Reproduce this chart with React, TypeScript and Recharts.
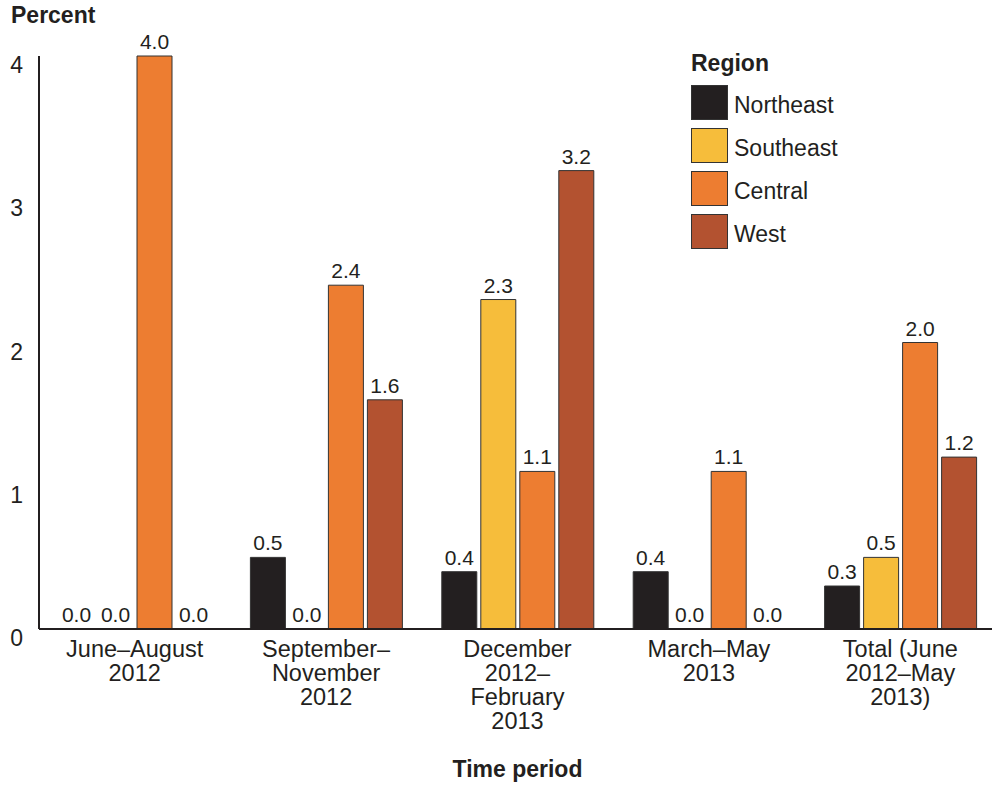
import React from 'react';
import { BarChart, Bar, XAxis, YAxis, Legend, LabelList, Rectangle } from 'recharts';

// Time periods, one entry per bar group; lines of each tick label split on '\n'
const periods = [
  'June–August\n2012',
  'September–\nNovember\n2012',
  'December\n2012–\nFebruary\n2013',
  'March–May\n2013',
  'Total (June\n2012–May\n2013)',
];

const northeast = [0.0, 0.5, 0.4, 0.4, 0.3];
const southeast = [0.0, 0.0, 2.3, 0.0, 0.5];
const central = [4.0, 2.4, 1.1, 1.1, 2.0];
const west = [0.0, 1.6, 3.2, 0.0, 1.2];

const yTicks = [0, 1, 2, 3, 4];

const regions = [
  { key: 'northeast', name: 'Northeast', color: '#231f20' },
  { key: 'southeast', name: 'Southeast', color: '#f6bd3b' },
  { key: 'central', name: 'Central', color: '#ed7d31' },
  { key: 'west', name: 'West', color: '#b35230' },
];

const data = periods.map((period, i) => ({
  period,
  northeast: northeast[i],
  southeast: southeast[i],
  central: central[i],
  west: west[i],
}));

const FONT = '"Liberation Sans", Arial, Helvetica, sans-serif';
const INK = '#231f20';

const PeriodTick = ({ x, y, payload }: any) => {
  const lines = String(payload.value).split('\n');
  return (
    <text x={x} y={y + 28} textAnchor="middle" fill={INK} fontSize={23.5} fontFamily={FONT}>
      {lines.map((line, i) => (
        <tspan key={i} x={x} dy={i === 0 ? 0 : 24}>
          {line}
        </tspan>
      ))}
    </text>
  );
};

const PercentTick = ({ x, y, payload }: any) => (
  <text x={x - 16} y={y + 17} textAnchor="end" fill={INK} fontSize={23} fontFamily={FONT}>
    {payload.value}
  </text>
);

// zero values get a hairline bar so their "0.0" label is still placed, but nothing is drawn
const BarShape = (props: any) => (props.height < 0.5 ? <g /> : <Rectangle {...props} />);

const RegionLegend = () => (
  <div style={{ fontFamily: FONT, color: INK }}>
    <div style={{ fontWeight: 'bold', fontSize: 23, lineHeight: '26px', marginBottom: 9 }}>Region</div>
    {regions.map((r) => (
      <div key={r.key} style={{ display: 'flex', alignItems: 'center', height: 35, marginBottom: 8 }}>
        <div
          style={{
            width: 35,
            height: 33,
            background: r.color,
            border: '1px solid #333',
            marginRight: 6,
          }}
        />
        <span style={{ fontSize: 23, lineHeight: '26px', paddingTop: 4 }}>{r.name}</span>
      </div>
    ))}
  </div>
);

export default function App() {
  return (
    <div
      style={{
        position: 'absolute',
        left: 0,
        top: 0,
        width: 992,
        height: 786,
        overflow: 'hidden',
        background: '#fff',
      }}
    >
      <div
        style={{
          position: 'absolute',
          left: 11,
          top: 4,
          fontFamily: FONT,
          fontWeight: 'bold',
          fontSize: 23,
          lineHeight: '23px',
          color: INK,
        }}
      >
        Percent
      </div>
      <BarChart
        width={1000}
        height={786}
        data={data}
        margin={{ top: 56, right: 4, bottom: 0, left: 0 }}
        barCategoryGap={20}
        barGap={4}
      >
        <XAxis
          dataKey="period"
          height={157}
          tickLine={false}
          tickSize={0}
          tickMargin={0}
          axisLine={{ stroke: INK, strokeWidth: 2 }}
          tick={<PeriodTick />}
          interval={0}
          label={{
            value: 'Time period',
            position: 'insideBottom',
            offset: 9,
            fill: INK,
            fontSize: 23,
            fontWeight: 'bold',
            fontFamily: FONT,
          }}
        />
        <YAxis
          width={39}
          domain={[0, 4]}
          ticks={yTicks}
          tickLine={false}
          tickSize={0}
          tickMargin={0}
          axisLine={{ stroke: INK, strokeWidth: 2 }}
          tick={<PercentTick />}
        />
        <Legend
          layout="vertical"
          align="center"
          verticalAlign="middle"
          wrapperStyle={{ left: 691, top: 50, width: 200 }}
          content={<RegionLegend />}
        />
        {regions.map((r) => (
          <Bar
            key={r.key}
            dataKey={r.key}
            name={r.name}
            fill={r.color}
            stroke="#333"
            strokeWidth={1}
            minPointSize={0.01}
            shape={<BarShape />}
            isAnimationActive={false}
          >
            <LabelList
              dataKey={r.key}
              position="top"
              offset={7}
              formatter={(v: any) => Number(v).toFixed(1)}
              fill={INK}
              fontSize={21}
              fontFamily={FONT}
            />
          </Bar>
        ))}
      </BarChart>
    </div>
  );
}
